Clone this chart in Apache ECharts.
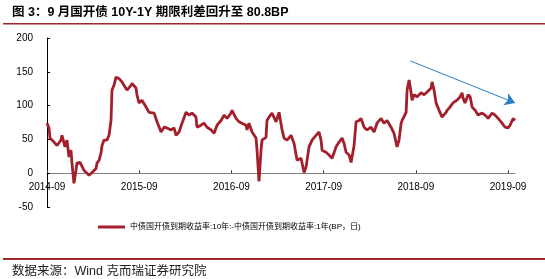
<!DOCTYPE html>
<html>
<head>
<meta charset="utf-8">
<script src="https://cdn.jsdelivr.net/npm/echarts@6/dist/echarts.min.js"></script>
<style>
  html, body { margin: 0; padding: 0; background: #fff; }
  #chart { width: 545px; height: 279px; }
</style>
</head>
<body>
<div id="chart"></div>
<script>
// 月份偏移（0 = 2014-09）
const monthIdx = [
  0, 0.26, 0.39, 0.91, 1.30, 1.82, 1.95, 2.34, 2.60, 2.86, 3.12, 3.25, 3.51, 3.77, 3.90,
  4.30, 4.82, 5.21, 5.47, 5.86, 6.38, 6.51, 6.77, 7.03, 7.16, 7.42, 7.81, 8.07, 8.33, 8.46,
  8.72, 8.98, 9.37, 9.76, 10.02, 10.41, 10.93, 11.06, 11.58, 11.71, 11.97, 12.36, 12.89, 13.28, 13.93,
  14.32, 14.84, 15.23, 15.62, 16.14, 16.53, 16.79, 17.18, 17.57, 18.09, 18.48, 18.87, 19.39, 19.52, 20.04,
  20.43, 20.83, 21.35, 21.74, 22.13, 22.65, 23.04, 23.43, 23.95, 24.08, 24.60, 24.99, 25.38, 25.90, 26.03,
  26.29, 26.68, 27.20, 27.33, 27.59, 27.85, 27.98, 28.50, 28.63, 28.89, 29.28, 29.81, 30.20, 30.59, 30.85,
  31.24, 31.76, 32.15, 32.54, 33.06, 33.19, 33.45, 33.71, 34.10, 34.49, 35.01, 35.40, 35.66, 35.79, 36.31,
  36.70, 37.10, 37.62, 38.01, 38.40, 38.66, 38.92, 39.31, 39.57, 39.70, 39.96, 40.22, 40.61, 40.87, 41.26,
  41.65, 42.17, 42.56, 42.95, 43.47, 43.86, 44.25, 44.77, 45.16, 45.55, 45.81, 46.08, 46.21, 46.73, 46.86,
  47.12, 47.38, 47.51, 47.77, 48.16, 48.68, 49.07, 49.46, 49.98, 50.11, 50.37, 50.63, 51.02, 51.41, 51.93,
  52.06, 52.45, 52.84, 53.36, 53.75, 54.01, 54.14, 54.40, 54.80, 55.06, 55.32, 55.71, 56.10, 56.62, 57.01,
  57.40, 57.92, 58.31, 58.70, 59.22, 59.61, 60.00, 60.26, 60.65, 60.90
];
// 10Y-1Y 利差 (BP)
const spread = [
  74, 67, 52, 46, 41, 49, 56, 39, 49, 24, 34, 15, -15, 4, 15,
  16, 4, 0, -3, 1, 7, 15, 19, 30, 41, 49, 49, 56, 78, 123,
  130, 142, 140, 135, 130, 123, 130, 133, 126, 116, 104, 108, 98, 90, 89,
  76, 61, 68, 67, 64, 67, 56, 61, 74, 90, 86, 89, 83, 68, 71,
  74, 68, 64, 59, 71, 78, 86, 81, 89, 93, 81, 76, 74, 71, 64,
  74, 61, 52, 34, -12, 34, 49, 53, 78, 83, 89, 76, 90, 64, 52,
  49, 56, 44, 19, 22, 15, 1, 9, 39, 49, 56, 61, 49, 34, 31,
  27, 22, 39, 46, 52, 44, 31, 27, 16, 15, 41, 76, 78, 81, 68,
  64, 68, 61, 74, 81, 74, 78, 68, 59, 39, 49, 74, 78, 90, 123,
  138, 119, 108, 116, 113, 119, 116, 120, 126, 135, 123, 104, 93, 83, 90,
  93, 98, 104, 108, 113, 119, 111, 104, 116, 113, 98, 93, 86, 89, 86,
  81, 89, 86, 81, 74, 68, 67, 71, 81, 78
];
const yTicks = [-50, 0, 50, 100, 150, 200];
const startYear = 2014;
const seriesName = "中债国开债到期收益率:10年:-中债国开债到期收益率:1年(BP，日)";
// 趋势箭头 [月份, 值]
const arrowFrom = [47.3, 166];
const arrowTo = [60.9, 104];

const FONT = "'Liberation Sans', Arial, 'Noto Sans CJK SC', sans-serif";
const RED = "#a31f2b";
const gridTop = 38, gridBottom = 72;
const yMin = yTicks[0], yMax = yTicks[yTicks.length - 1];
// x 轴放在 0 值处：从底边上移的像素
const plotH = 279 - gridTop - gridBottom;
const zeroShift = (0 - yMin) / (yMax - yMin) * plotH;

var myChart = echarts.init(document.getElementById("chart"));
var option = {
  animation: false,
  textStyle: { fontFamily: FONT },
  grid: { left: 47, right: 30, top: gridTop, bottom: gridBottom },
  legend: {
    left: 93,
    top: 218,
    icon: "rect",
    itemWidth: 27,
    itemHeight: 3,
    textStyle: { fontSize: 8, color: "#000", fontFamily: FONT },
    data: [seriesName],
  },
  xAxis: {
    type: "value",
    min: 0,
    max: 60.9,
    interval: 12,
    offset: -zeroShift,
    axisLine: { onZero: false, lineStyle: { color: "#808080", width: 1 } },
    axisTick: { inside: true, length: 3, lineStyle: { color: "#404040" } },
    splitLine: { show: false },
    axisLabel: {
      color: "#000",
      fontSize: 10,
      margin: 9,
      showMaxLabel: false,
      formatter: function (v) {
        return startYear + Math.round(v / 12) + "-09";
      },
    },
  },
  yAxis: {
    type: "value",
    min: yMin,
    max: yMax,
    interval: 50,
    axisLine: { show: true, onZero: false, lineStyle: { color: "#000", width: 1 } },
    axisTick: { show: true, inside: true, length: 3, lineStyle: { color: "#000" } },
    splitLine: { show: false },
    axisLabel: { color: "#000", fontSize: 10, margin: 14 },
  },
  series: [
    {
      name: seriesName,
      type: "line",
      data: monthIdx.map((m, i) => [m, spread[i]]),
      showSymbol: false,
      symbol: "none",
      lineStyle: { color: RED, width: 2.8 },
      itemStyle: { color: RED },
      markLine: {
        silent: true,
        symbol: ["none", "arrow"],
        symbolSize: 10,
        label: { show: false },
        lineStyle: { color: "#2b7fc4", width: 1, type: "solid" },
        data: [[{ coord: arrowFrom }, { coord: arrowTo }]],
      },
    },
  ],
  graphic: [
    {
      type: "text",
      left: 12,
      top: 6,
      style: {
        text: "图 3：9 月国开债 10Y-1Y 期限利差回升至 80.8BP",
        font: "bold 12.5px " + FONT,
        fill: "#000",
      },
    },
    {
      type: "rect",
      shape: { x: 3, y: 23, width: 542, height: 1.5 },
      style: { fill: "#a0282c" },
    },
    {
      type: "rect",
      shape: { x: 3, y: 258, width: 542, height: 2 },
      style: { fill: "#a0282c" },
    },
    {
      type: "text",
      left: 12,
      top: 265,
      style: {
        text: "数据来源：Wind 克而瑞证券研究院",
        font: "12.5px " + FONT,
        fill: "#222",
      },
    },
  ],
};
myChart.setOption(option);
</script>
</body>
</html>
